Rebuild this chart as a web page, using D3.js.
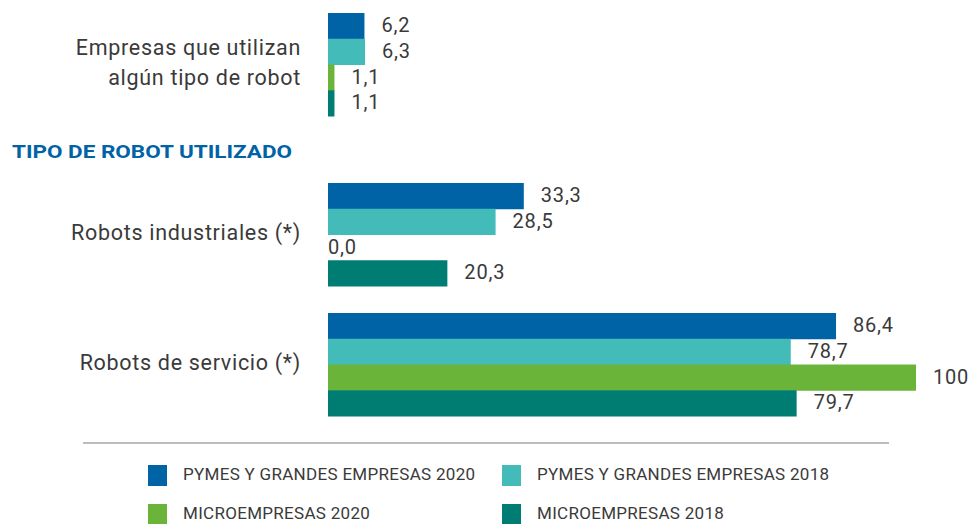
<!DOCTYPE html>
<html>
<head>
<meta charset="utf-8">
<script src="https://cdn.jsdelivr.net/npm/d3@7"></script>
<style>
  body { margin: 0; background: #fff; }
  text { font-family: Roboto, "Noto Sans", sans-serif; }
</style>
</head>
<body>
<div id="chart"></div>
<script>
// data
var categories = [
    ["Empresas que utilizan", "algún tipo de robot"],
    ["Robots industriales (*)"],
    ["Robots de servicio (*)"]
];
var seriesNames = [
    "PYMES Y GRANDES EMPRESAS 2020",
    "PYMES Y GRANDES EMPRESAS 2018",
    "MICROEMPRESAS 2020",
    "MICROEMPRESAS 2018"
];
var pymes2020 = [6.2, 33.3, 86.4];
var pymes2018 = [6.3, 28.5, 78.7];
var micro2020 = [1.1, 0.0, 100];
var micro2018 = [1.1, 20.3, 79.7];
var sectionTitle = "TIPO DE ROBOT UTILIZADO";

var colors = ["#0063a6", "#43bbb8", "#6ab43a", "#007d73"];
var seriesValues = [pymes2020, pymes2018, micro2020, micro2018];

var width = 969;
var height = 524;

var svg = d3.select('#chart')
    .append('svg')
        .attr('width', width)
        .attr('height', height);

// layout: top of each group of bars
var groupTop = [13, 183, 313];
var groupHeight = 103;

var x = d3.scaleLinear()
    .domain([0, 100])
    .range([328, 916]);

var yInner = d3.scaleBand()
    .domain(seriesNames)
    .range([0, groupHeight]);

var color = d3.scaleOrdinal()
    .domain(seriesNames)
    .range(colors);

var locale = d3.formatLocale({ decimal: ",", thousands: ".", grouping: [3], currency: ["", "€"] });
var fmt = v => v >= 100 ? locale.format("d")(v) : locale.format(".1f")(v);

var rows = [];
categories.forEach((c, i) => {
    seriesNames.forEach((s, j) => {
        rows.push({ cat: i, series: s, value: seriesValues[j][i] });
    });
});

var groups = svg.selectAll('.group')
    .data(categories)
    .enter()
    .append('g')
        .attr('class', 'group')
        .attr('transform', (d, i) => 'translate(0,' + groupTop[i] + ')');

groups.each(function(cat, i) {
    var g = d3.select(this);
    var data = rows.filter(r => r.cat === i);

    g.selectAll('rect')
        .data(data)
        .enter()
        .append('rect')
            .attr('x', x(0))
            .attr('y', d => yInner(d.series))
            .attr('width', d => x(d.value) - x(0))
            .attr('height', yInner.bandwidth() + 0.5)
            .attr('fill', d => color(d.series));

    g.selectAll('.val')
        .data(data)
        .enter()
        .append('text')
            .attr('class', 'val')
            .attr('x', d => d.value === 0 ? x(0) : x(d.value) + 17)
            .attr('y', d => yInner(d.series) + yInner.bandwidth() / 2 + 1)
            .attr('dominant-baseline', 'middle')
            .attr('font-size', '20px')
            .attr('letter-spacing', '0.8px')
            .attr('fill', '#3a3a3a')
            .text(d => fmt(d.value));

    var lbl = g.append('text')
        .attr('x', 301)
        .attr('text-anchor', 'end')
        .attr('font-size', '21.5px')
        .attr('letter-spacing', '0.7px')
        .attr('fill', '#3a3a3a');

    var mid = groupHeight / 2;
    var lineH = 30;
    cat.forEach((line, k) => {
        lbl.append('tspan')
            .attr('x', 301)
            .attr('y', mid + (k - (cat.length - 1) / 2) * lineH)
            .attr('dominant-baseline', 'middle')
            .text(line);
    });
});

// section heading
svg.append('text')
    .attr('x', 12)
    .attr('y', 153)
    .attr('dominant-baseline', 'middle')
    .attr('font-size', '19px')
    .attr('font-weight', 'bold')
    .attr('fill', '#0063a6')
    .attr('textLength', 280)
    .attr('lengthAdjust', 'spacingAndGlyphs')
    .text(sectionTitle);

// separator
svg.append('line')
    .attr('x1', 83)
    .attr('x2', 889)
    .attr('y1', 443)
    .attr('y2', 443)
    .attr('stroke', '#bdbdbd')
    .attr('stroke-width', 2);

// legend
var legend = svg.append('g')
    .attr('transform', 'translate(148, 465)');

var legendRow = legend.selectAll('.legendRow')
    .data(seriesNames)
    .enter()
    .append('g')
        .attr('class', 'legendRow')
        .attr('transform', (d, i) => 'translate(' + (i % 2) * 354 + ',' + Math.floor(i / 2) * 39 + ')');

legendRow.append('rect')
    .attr('width', 19)
    .attr('height', 21)
    .attr('fill', d => color(d));

legendRow.append('text')
    .attr('x', 35)
    .attr('y', 11)
    .attr('dominant-baseline', 'middle')
    .attr('font-size', '17px')
    .attr('letter-spacing', '0.3px')
    .attr('fill', '#3a3a3a')
    .text(d => d);
</script>
</body>
</html>
